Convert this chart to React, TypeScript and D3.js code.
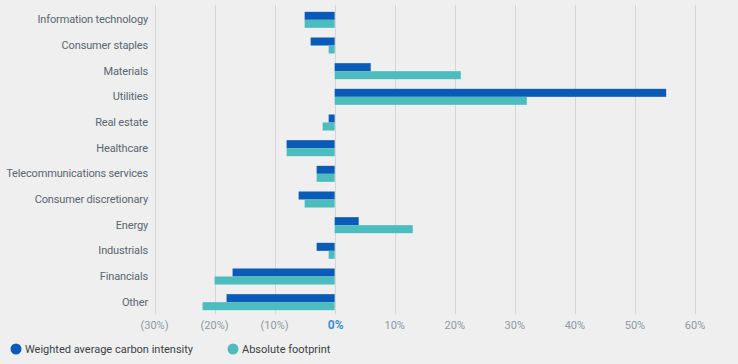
import { useEffect, useRef } from "react";
import * as d3 from "d3";

const categories = [
  "Information technology",
  "Consumer staples",
  "Materials",
  "Utilities",
  "Real estate",
  "Healthcare",
  "Telecommunications services",
  "Consumer discretionary",
  "Energy",
  "Industrials",
  "Financials",
  "Other",
];
const intensity = [-5, -4, 6, 55.2, -1, -8, -3, -6, 4, -3, -17, -18];
const footprint = [-5, -1, 21, 32, -2, -8, -3, -5, 13, -1, -20, -22];
const ticks = [-30, -20, -10, 0, 10, 20, 30, 40, 50, 60];
const seriesNames = ["Weighted average carbon intensity", "Absolute footprint"];
const colors = ["#0a5bb8", "#4dbcbe"];

const W = 738;
const H = 364;
const font = "Roboto, 'DejaVu Sans', sans-serif";

export default function App() {
  const svgRef = useRef<SVGSVGElement>(null);

  useEffect(() => {
    if (!svgRef.current) return;
    const svg = d3.select(svgRef.current);
    svg.selectAll("*").remove();

    svg.append("rect").attr("width", W).attr("height", H).attr("fill", "#efefef");

    const x = d3.scaleLinear().domain([-30, 60]).range([154.5, 695]);
    const y = d3
      .scaleBand()
      .domain(categories)
      .range([7, 315])
      .paddingInner(0.36)
      .paddingOuter(0.18);

    // gridlines
    svg
      .selectAll(".grid")
      .data(ticks)
      .enter()
      .append("line")
      .attr("x1", (d) => Math.round(x(d)) + 0.5)
      .attr("x2", (d) => Math.round(x(d)) + 0.5)
      .attr("y1", 5)
      .attr("y2", 314)
      .attr("stroke", "#d6d6d6")
      .attr("stroke-width", 1);

    const bh = 8;
    const series = [intensity, footprint];
    series.forEach((vals, si) => {
      svg
        .append("g")
        .selectAll("rect")
        .data(categories)
        .enter()
        .append("rect")
        .attr("x", (_, i) => x(Math.min(0, vals[i])))
        .attr("y", (d) => y(d)! + y.bandwidth() / 2 - bh + si * bh)
        .attr("width", (_, i) => Math.abs(x(vals[i]) - x(0)))
        .attr("height", bh)
        .attr("fill", colors[si]);
    });

    // category labels
    svg
      .selectAll(".cat")
      .data(categories)
      .enter()
      .append("text")
      .attr("x", 148)
      .attr("y", (d) => y(d)! + y.bandwidth() / 2 - 0.5)
      .attr("dy", "0.35em")
      .attr("text-anchor", "end")
      .attr("font-family", font)
      .attr("font-size", 11)
      .attr("letter-spacing", -0.15)
      .attr("fill", "#5b6670")
      .text((d) => d);

    // tick labels
    svg
      .selectAll(".tick")
      .data(ticks)
      .enter()
      .append("text")
      .attr("x", (d) => x(d) + (d === 0 ? 1 : 0))
      .attr("y", 329)
      .attr("text-anchor", "middle")
      .attr("font-family", font)
      .attr("font-size", (d) => (d === 0 ? 12 : 11))
      .attr("font-weight", (d) => (d === 0 ? 700 : 400))
      .attr("fill", (d) => (d === 0 ? "#3c8ccf" : "#8d99a3"))
      .text((d) => (d < 0 ? `(${-d}%)` : `${d}%`));

    // legend
    const legendX = [16, 233];
    seriesNames.forEach((name, i) => {
      svg
        .append("circle")
        .attr("cx", legendX[i])
        .attr("cy", 349)
        .attr("r", 5.5)
        .attr("fill", colors[i]);
      svg
        .append("text")
        .attr("x", legendX[i] + 9)
        .attr("y", 349)
        .attr("dy", "0.35em")
        .attr("font-family", font)
        .attr("font-size", 11)
        .attr("fill", "#3b3f44")
        .text(name);
    });
  }, []);

  return (
    <svg
      ref={svgRef}
      width={W}
      height={H}
      style={{ position: "absolute", left: 0, top: 0, display: "block" }}
    />
  );
}
